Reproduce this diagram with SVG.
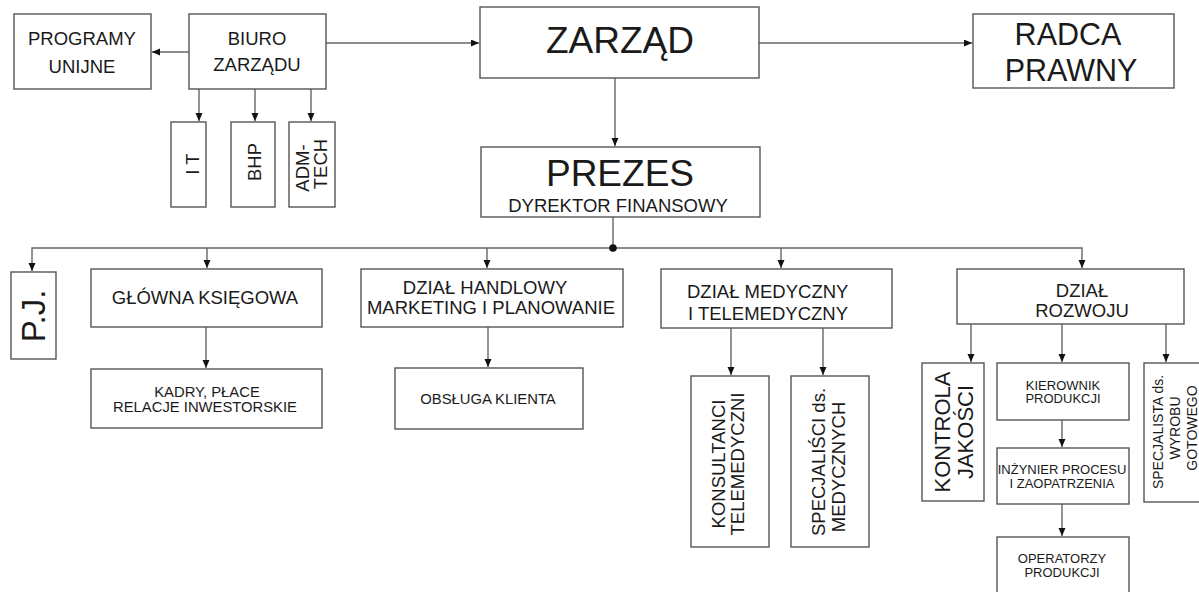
<svg xmlns="http://www.w3.org/2000/svg" width="1199" height="592" viewBox="0 0 1199 592">
<style>
  .box { fill: #fff; stroke: #555; stroke-width: 1.4; }
  .t { font-family: "Liberation Sans", Arial, sans-serif; fill: #1a1a1a; text-anchor: middle; }
  .c { fill: none; stroke: #666; stroke-width: 1.4; }
  .f18 { font-size: 18.5px; }
  .f15 { font-size: 14.8px; }
  .f13 { font-size: 13px; }
</style>
<defs>
  <marker id="ah" markerUnits="userSpaceOnUse" markerWidth="9" markerHeight="8" refX="8" refY="3.5" orient="auto">
    <path d="M0,0 L8,3.5 L0,7 z" fill="#111"/>
  </marker>
</defs>
<rect width="1199" height="592" fill="#fff"/>

<g id="connectors">
  <path class="c" d="M189,52 H152" marker-end="url(#ah)"/>
  <path class="c" d="M326,43 H479" marker-end="url(#ah)"/>
  <path class="c" d="M759,43 H972" marker-end="url(#ah)"/>
  <path class="c" d="M199,89 V121" marker-end="url(#ah)"/>
  <path class="c" d="M255,89 V121" marker-end="url(#ah)"/>
  <path class="c" d="M311,89 V121" marker-end="url(#ah)"/>
  <path class="c" d="M615,78 V146" marker-end="url(#ah)"/>
  <path class="c" d="M613,217 V248"/>
  <path class="c" d="M613,248 H32 V271" marker-end="url(#ah)"/>
  <path class="c" d="M613,248 H1082 V268" marker-end="url(#ah)"/>
  <path class="c" d="M207,248 V268" marker-end="url(#ah)"/>
  <path class="c" d="M487,248 V268" marker-end="url(#ah)"/>
  <path class="c" d="M781,248 V268" marker-end="url(#ah)"/>
  <circle cx="613" cy="248" r="3.8" fill="#111"/>
  <path class="c" d="M206,327 V368" marker-end="url(#ah)"/>
  <path class="c" d="M488,327 V367" marker-end="url(#ah)"/>
  <path class="c" d="M731,328 V375" marker-end="url(#ah)"/>
  <path class="c" d="M823,328 V375" marker-end="url(#ah)"/>
  <path class="c" d="M971,324 V362" marker-end="url(#ah)"/>
  <path class="c" d="M1062,324 V362" marker-end="url(#ah)"/>
  <path class="c" d="M1166,324 V362" marker-end="url(#ah)"/>
  <path class="c" d="M1062,420 V447" marker-end="url(#ah)"/>
  <path class="c" d="M1062,504 V536" marker-end="url(#ah)"/>
</g>

<g id="programy">
  <rect class="box" x="14" y="14" width="137" height="75"/>
  <text class="t f18" x="82" y="45">PROGRAMY</text>
  <text class="t f18" x="82" y="73">UNIJNE</text>
</g>
<g id="biuro">
  <rect class="box" x="189" y="14" width="137" height="75"/>
  <text class="t f18" x="257" y="45">BIURO</text>
  <text class="t f18" x="257" y="71">ZARZĄDU</text>
</g>
<g id="it">
  <rect class="box" x="171" y="122" width="35" height="85"/>
  <text class="t f18" transform="translate(198.5,164) rotate(-90)">I T</text>
</g>
<g id="bhp">
  <rect class="box" x="231" y="122" width="44" height="85"/>
  <text class="t f18" transform="translate(260.5,162) rotate(-90)">BHP</text>
</g>
<g id="admtech">
  <rect class="box" x="289" y="122" width="46" height="85"/>
  <text class="t f18" transform="translate(308.5,168) rotate(-90)">ADM-</text>
  <text class="t f18" transform="translate(326.5,164) rotate(-90)">TECH</text>
</g>
<g id="zarzad">
  <rect class="box" x="480" y="7" width="279" height="71"/>
  <text class="t" style="font-size:37px" x="620" y="53">ZARZĄD</text>
</g>
<g id="radca">
  <rect class="box" x="973" y="14" width="201" height="74"/>
  <text class="t" style="font-size:30.5px" x="1068" y="45">RADCA</text>
  <text class="t" style="font-size:30.5px" x="1071" y="81">PRAWNY</text>
</g>
<g id="prezes">
  <rect class="box" x="481" y="147" width="279" height="70"/>
  <text class="t" style="font-size:37px" x="620" y="186">PREZES</text>
  <text class="t f18" x="618" y="212">DYREKTOR FINANSOWY</text>
</g>
<g id="pj">
  <rect class="box" x="11" y="272" width="45" height="87"/>
  <text class="t" style="font-size:33px" transform="translate(45,316) rotate(-90)">P.J.</text>
</g>
<g id="glowna">
  <rect class="box" x="91" y="269" width="231" height="58"/>
  <text class="t f18" x="205" y="304">GŁÓWNA KSIĘGOWA</text>
</g>
<g id="kadry">
  <rect class="box" x="91" y="369" width="231" height="59"/>
  <text class="t f15" x="207" y="397">KADRY, PŁACE</text>
  <text class="t f15" x="205" y="412">RELACJE INWESTORSKIE</text>
</g>
<g id="handlowy">
  <rect class="box" x="361" y="269" width="262" height="58"/>
  <text class="t f18" x="485" y="294">DZIAŁ HANDLOWY</text>
  <text class="t f18" x="491" y="314">MARKETING I PLANOWANIE</text>
</g>
<g id="obsluga">
  <rect class="box" x="395" y="368" width="188" height="61"/>
  <text class="t f15" x="488" y="404">OBSŁUGA KLIENTA</text>
</g>
<g id="medyczny">
  <rect class="box" x="661" y="269" width="231" height="59"/>
  <text class="t f18" style="text-anchor:start" x="687" y="298">DZIAŁ MEDYCZNY</text>
  <text class="t f18" style="text-anchor:start" x="688" y="320">I TELEMEDYCZNY</text>
</g>
<g id="konsultanci">
  <rect class="box" x="691" y="376" width="78" height="171"/>
  <text class="t f18" transform="translate(724.5,464) rotate(-90)">KONSULTANCI</text>
  <text class="t f18" transform="translate(743.5,464) rotate(-90)">TELEMEDYCZNI</text>
</g>
<g id="specjalisci">
  <rect class="box" x="791" y="376" width="78" height="171"/>
  <text class="t f18" transform="translate(824.5,462) rotate(-90)">SPECJALIŚCI ds.</text>
  <text class="t f18" transform="translate(844.5,467) rotate(-90)">MEDYCZNYCH</text>
</g>
<g id="rozwoju">
  <rect class="box" x="957" y="269" width="227" height="55"/>
  <text class="t f18" x="1082" y="297">DZIAŁ</text>
  <text class="t f18" x="1082" y="317">ROZWOJU</text>
</g>
<g id="kontrola">
  <rect class="box" x="922" y="363" width="62" height="138"/>
  <text class="t" style="font-size:22px" transform="translate(950,432) rotate(-90)">KONTROLA</text>
  <text class="t" style="font-size:22px" transform="translate(973,432) rotate(-90)">JAKOŚCI</text>
</g>
<g id="kierownik">
  <rect class="box" x="997" y="363" width="132" height="57"/>
  <text class="t f13" x="1063" y="390">KIEROWNIK</text>
  <text class="t f13" x="1063" y="403">PRODUKCJI</text>
</g>
<g id="inzynier">
  <rect class="box" x="997" y="448" width="132" height="56"/>
  <text class="t f13" x="1062" y="474">INŻYNIER PROCESU</text>
  <text class="t f13" x="1062" y="488">I ZAOPATRZENIA</text>
</g>
<g id="operatorzy">
  <rect class="box" x="997" y="537" width="132" height="70"/>
  <text class="t f13" x="1062" y="563">OPERATORZY</text>
  <text class="t f13" x="1062" y="577">PRODUKCJI</text>
</g>
<g id="specjalista">
  <rect class="box" x="1144" y="363" width="70" height="139"/>
  <text class="t" style="font-size:14px" transform="translate(1163,432) rotate(-90)">SPECJALISTA ds.</text>
  <text class="t" style="font-size:14px" transform="translate(1180,428) rotate(-90)">WYROBU</text>
  <text class="t" style="font-size:14px" transform="translate(1197,428) rotate(-90)">GOTOWEGO</text>
</g>
</svg>
